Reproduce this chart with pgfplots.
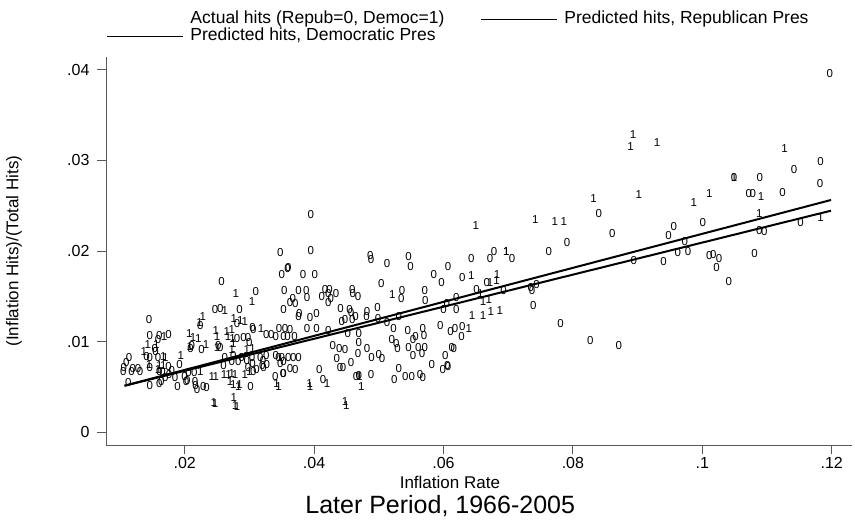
\documentclass[border=0pt]{standalone}
\usepackage{fontspec}
\setmainfont{Liberation Sans}
\usepackage{pgfplots}
\pgfplotsset{compat=1.18}
\pgfplotsset{
  lblz/.style={only marks, color=black, mark=text, text mark={0}, text mark as node=true,
    text mark style={font=\fontsize{11.5bp}{11.5bp}\selectfont, inner sep=0pt}, forget plot},
  lblo/.style={only marks, color=black, mark=text, text mark={1}, text mark as node=true,
    text mark style={font=\fontsize{11.5bp}{11.5bp}\selectfont, inner sep=0pt}, forget plot},
  leg/.style={legend image code/.code={\draw[##1, line width=1bp] (0bp,0bp) -- (76bp,0bp);}},
}
\begin{document}
\begin{tikzpicture}
\begin{axis}[name=ax,
  scale only axis, width=746bp, height=388bp,
  xmin=0.00784, xmax=0.12314, ymin=-0.0014, ymax=0.04142,
  axis lines=left, axis line style={-, black!65, line width=0.8bp},
  tick align=outside, major tick length=9bp,
  tick style={black!65, line width=0.8bp},
  xtick={0.02,0.04,0.06,0.08,0.1,0.12},
  xticklabels={.02,.04,.06,.08,.1,.12},
  ytick={0,0.01,0.02,0.03,0.04},
  yticklabels={0,.01,.02,.03,.04},
  ticklabel style={font=\fontsize{16bp}{16bp}\selectfont},
  yticklabel style={xshift=-4bp},
  scaled ticks=false,
  xlabel={Inflation Rate},
  ylabel={(Inflation Hits)/(Total Hits)},
  every axis x label/.style={at={(axis description cs:0.461,0)}, anchor=center, yshift=-37bp, font=\fontsize{17bp}{17bp}\selectfont},
  every axis y label/.style={at={(axis description cs:-0.1233,0.5)}, rotate=90, anchor=center, font=\fontsize{17bp}{17bp}\selectfont},
  title={Later Period, 1966-2005},
  every axis title/.style={at={(axis description cs:0.448,0)}, anchor=center, yshift=-61bp, font=\fontsize{25bp}{25bp}\selectfont},
  clip=false,
  legend columns=2, legend cell align=left,
  legend style={draw=none, fill=none, at={(axis description cs:0,1)}, anchor=south west,
    xshift=1bp, yshift=12bp, inner sep=0pt, outer sep=0pt, row sep=1bp,
    font=\fontsize{17.5bp}{17.5bp}\selectfont,
    nodes={inner sep=0.5bp, text height=12bp, text depth=3.5bp},
    /tikz/every odd column/.append style={column sep=6bp},
    /tikz/every even column/.append style={column sep=36bp}},
]
\addplot[lblz] table {
x y
0.1197 0.0396
0.1183 0.0299
0.1142 0.0290
0.1049 0.0281
0.1089 0.0281
0.1182 0.0275
0.1072 0.0264
0.1078 0.0264
0.1124 0.0265
0.1152 0.0231
0.1088 0.0223
0.1096 0.0222
0.0861 0.0219
0.0956 0.0227
0.0948 0.0217
0.1001 0.0232
0.0973 0.0211
0.0962 0.0198
0.0978 0.0199
0.1011 0.0195
0.1017 0.0196
0.1026 0.0192
0.1022 0.0182
0.1081 0.0197
0.0894 0.0190
0.0940 0.0189
0.1041 0.0166
0.0840 0.0241
0.0791 0.0209
0.0763 0.0199
0.0678 0.0199
0.0672 0.0192
0.0706 0.0192
0.0643 0.0192
0.0629 0.0171
0.0667 0.0165
0.0651 0.0158
0.0693 0.0156
0.0735 0.0160
0.0744 0.0163
0.0737 0.0156
0.0620 0.0149
0.0620 0.0136
0.0739 0.0140
0.0781 0.0120
0.0618 0.0114
0.0629 0.0117
0.0611 0.0111
0.0628 0.0106
0.0827 0.0101
0.0871 0.0096
0.0613 0.0094
0.0616 0.0092
0.0395 0.0201
0.0487 0.0195
0.0488 0.0191
0.0546 0.0194
0.0549 0.0183
0.0513 0.0186
0.0607 0.0183
0.0360 0.0182
0.0383 0.0174
0.0401 0.0174
0.0585 0.0174
0.0597 0.0165
0.0504 0.0164
0.0536 0.0156
0.0535 0.0148
0.0571 0.0156
0.0572 0.0145
0.0354 0.0156
0.0376 0.0156
0.0388 0.0156
0.0389 0.0149
0.0417 0.0158
0.0424 0.0158
0.0422 0.0153
0.0412 0.0150
0.0426 0.0148
0.0422 0.0143
0.0434 0.0153
0.0459 0.0158
0.0460 0.0153
0.0468 0.0150
0.0367 0.0148
0.0371 0.0142
0.0363 0.0143
0.0353 0.0135
0.0441 0.0137
0.0455 0.0135
0.0457 0.0132
0.0482 0.0133
0.0481 0.0128
0.0498 0.0138
0.0531 0.0128
0.0605 0.0142
0.0600 0.0136
0.0377 0.0131
0.0376 0.0128
0.0394 0.0127
0.0404 0.0131
0.0464 0.0128
0.0443 0.0122
0.0448 0.0124
0.0459 0.0125
0.0499 0.0126
0.0513 0.0121
0.0595 0.0118
0.0355 0.0115
0.0363 0.0113
0.0389 0.0114
0.0404 0.0114
0.0422 0.0112
0.0452 0.0109
0.0469 0.0109
0.0523 0.0114
0.0545 0.0112
0.0568 0.0114
0.0570 0.0107
0.0557 0.0106
0.0553 0.0102
0.0520 0.0102
0.0527 0.0098
0.0529 0.0093
0.0429 0.0096
0.0439 0.0093
0.0469 0.0099
0.0482 0.0092
0.0468 0.0087
0.0448 0.0091
0.0546 0.0094
0.0561 0.0094
0.0571 0.0094
0.0553 0.0085
0.0567 0.0087
0.0603 0.0085
0.0489 0.0082
0.0500 0.0086
0.0505 0.0081
0.0435 0.0081
0.0457 0.0077
0.0582 0.0075
0.0606 0.0074
0.0440 0.0072
0.0445 0.0072
0.0408 0.0069
0.0488 0.0064
0.0531 0.0070
0.0524 0.0058
0.0541 0.0062
0.0551 0.0062
0.0564 0.0064
0.0568 0.0061
0.0599 0.0069
0.0607 0.0073
0.0465 0.0062
0.0469 0.0063
0.0414 0.0058
0.0353 0.0065
0.0348 0.0076
0.0395 0.0240
0.0348 0.0198
0.0350 0.0174
0.0359 0.0181
0.0257 0.0166
0.0310 0.0155
0.0247 0.0135
0.0255 0.0137
0.0285 0.0136
0.0145 0.0125
0.0224 0.0118
0.0281 0.0120
0.0305 0.0116
0.0306 0.0113
0.0326 0.0108
0.0334 0.0108
0.0341 0.0106
0.0346 0.0114
0.0353 0.0106
0.0359 0.0106
0.0370 0.0106
0.0252 0.0096
0.0255 0.0094
0.0281 0.0104
0.0291 0.0105
0.0298 0.0105
0.0300 0.0099
0.0146 0.0107
0.0159 0.0102
0.0161 0.0107
0.0175 0.0108
0.0154 0.0093
0.0155 0.0089
0.0211 0.0096
0.0226 0.0091
0.0209 0.0092
0.0141 0.0084
0.0146 0.0082
0.0159 0.0083
0.0114 0.0082
0.0110 0.0077
0.0106 0.0072
0.0120 0.0070
0.0128 0.0070
0.0105 0.0067
0.0118 0.0067
0.0131 0.0067
0.0146 0.0072
0.0175 0.0073
0.0192 0.0075
0.0180 0.0068
0.0166 0.0067
0.0161 0.0067
0.0170 0.0061
0.0185 0.0061
0.0176 0.0064
0.0200 0.0062
0.0206 0.0066
0.0215 0.0066
0.0202 0.0056
0.0204 0.0057
0.0216 0.0056
0.0217 0.0052
0.0219 0.0047
0.0234 0.0049
0.0229 0.0050
0.0164 0.0056
0.0161 0.0054
0.0146 0.0052
0.0189 0.0051
0.0306 0.0067
0.0260 0.0074
0.0262 0.0082
0.0273 0.0078
0.0275 0.0085
0.0283 0.0078
0.0288 0.0083
0.0296 0.0079
0.0304 0.0083
0.0305 0.0076
0.0298 0.0071
0.0311 0.0069
0.0322 0.0072
0.0317 0.0083
0.0321 0.0079
0.0326 0.0085
0.0320 0.0074
0.0327 0.0075
0.0341 0.0085
0.0345 0.0083
0.0350 0.0082
0.0353 0.0078
0.0360 0.0082
0.0368 0.0083
0.0376 0.0083
0.0363 0.0070
0.0371 0.0069
0.0340 0.0062
0.0352 0.0065
0.0302 0.0050
0.0113 0.0055
};
\addplot[lblo] table {
x y
0.0893 0.0329
0.0889 0.0315
0.0930 0.0320
0.1127 0.0313
0.1049 0.0281
0.0902 0.0262
0.0987 0.0254
0.1011 0.0263
0.1091 0.0260
0.1088 0.0241
0.1183 0.0237
0.0832 0.0258
0.0650 0.0228
0.0742 0.0235
0.0772 0.0233
0.0786 0.0233
0.0697 0.0200
0.0697 0.0199
0.0643 0.0173
0.0683 0.0174
0.0682 0.0168
0.0672 0.0165
0.0657 0.0153
0.0661 0.0144
0.0670 0.0147
0.0644 0.0129
0.0661 0.0129
0.0673 0.0133
0.0687 0.0134
0.0639 0.0114
0.0521 0.0152
0.0470 0.0061
0.0420 0.0054
0.0393 0.0054
0.0394 0.0050
0.0473 0.0050
0.0448 0.0034
0.0450 0.0030
0.0279 0.0153
0.0304 0.0144
0.0262 0.0134
0.0228 0.0128
0.0223 0.0121
0.0276 0.0126
0.0286 0.0123
0.0293 0.0122
0.0318 0.0114
0.0248 0.0112
0.0250 0.0106
0.0265 0.0111
0.0273 0.0113
0.0267 0.0106
0.0274 0.0103
0.0275 0.0098
0.0273 0.0091
0.0296 0.0091
0.0305 0.0093
0.0207 0.0109
0.0213 0.0105
0.0221 0.0104
0.0168 0.0106
0.0143 0.0097
0.0156 0.0097
0.0208 0.0095
0.0233 0.0097
0.0250 0.0094
0.0194 0.0085
0.0137 0.0089
0.0167 0.0084
0.0170 0.0082
0.0145 0.0075
0.0161 0.0074
0.0167 0.0074
0.0159 0.0069
0.0224 0.0067
0.0242 0.0061
0.0248 0.0061
0.0270 0.0056
0.0285 0.0053
0.0261 0.0064
0.0268 0.0064
0.0273 0.0065
0.0278 0.0064
0.0293 0.0064
0.0300 0.0067
0.0275 0.0053
0.0283 0.0051
0.0342 0.0054
0.0345 0.0050
0.0245 0.0033
0.0247 0.0032
0.0276 0.0038
0.0278 0.0030
0.0281 0.0028
};
\addlegendimage{empty legend}
\addlegendentry{Actual hits (Repub=0, Democ=1)}
\addplot[leg, black, line width=2bp] table {
x y
0.0107 0.00514
0.1199 0.02446
};
\addlegendentry{Predicted hits, Republican Pres}
\addplot[leg, black, line width=2bp] table {
x y
0.0107 0.00514
0.1199 0.02564
};
\addlegendentry{Predicted hits, Democratic Pres}
\end{axis}
\pgfresetboundingbox
\path[use as bounding box] ([xshift=-106bp,yshift=-79bp]ax.south west) rectangle ([xshift=3bp,yshift=57bp]ax.north east);
\end{tikzpicture}
\end{document}
